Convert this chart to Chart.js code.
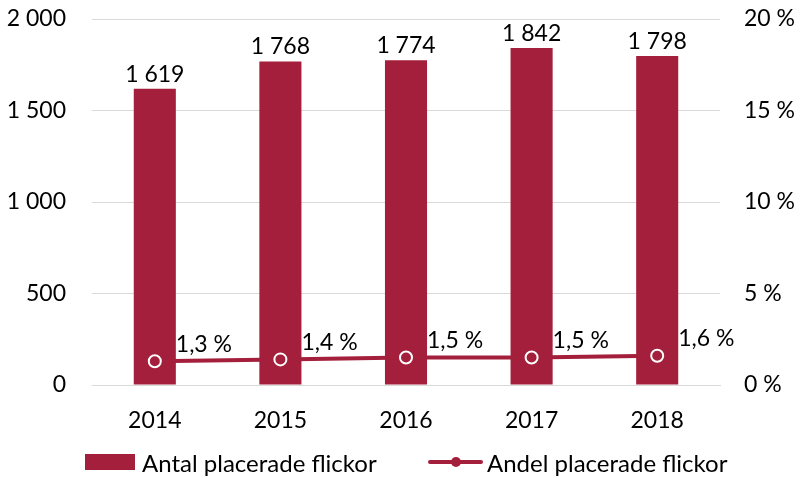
<!DOCTYPE html>
<html>
<head>
<meta charset="utf-8">
<script src="https://cdn.jsdelivr.net/npm/chart.js@4"></script>
<style>
  body { margin: 0; background: #fff; }
  #wrap { position: relative; width: 800px; height: 478px; }
  #legend { position: absolute; left: 0; top: 447px; width: 800px; height: 30px;
            font: 24px Lato, 'Noto Sans', sans-serif; color: #000; }
  #legend .item { position: absolute; top: 0; height: 30px; display: flex; align-items: center; white-space: nowrap; }
  #legend .box { width: 50px; height: 16px; margin-right: 7px; }
  #legend .line { position: relative; width: 55px; height: 4px; border-radius: 2px; margin-right: 4px; }
  #legend .line i { position: absolute; left: 23px; top: -3px; width: 10px; height: 10px; border-radius: 50%; }
</style>
</head>
<body>
<div id="wrap">
  <canvas id="chart"></canvas>
  <div id="legend"></div>
</div>
<script>
const years = ['2014', '2015', '2016', '2017', '2018'];
const antal = [1619, 1768, 1774, 1842, 1798];
const andel = [1.3, 1.4, 1.5, 1.5, 1.6];
const leftTicks = [0, 500, 1000, 1500, 2000];
const rightTicks = [0, 5, 10, 15, 20];

const red = '#A41F3B';
const font = "Lato, 'Noto Sans', sans-serif";
const fs = 23;

const fmtNum = v => String(v).replace(/\B(?=(\d{3})+(?!\d))/g, ' ');
const fmtPct = v => v.toFixed(1).replace('.', ',') + ' %';

const valueLabels = {
  id: 'valueLabels',
  afterDatasetsDraw(chart) {
    const ctx = chart.ctx;
    ctx.save();
    ctx.font = fs + 'px ' + font;
    ctx.fillStyle = '#000';
    chart.getDatasetMeta(0).data.forEach((bar, i) => {
      ctx.textAlign = 'center';
      ctx.textBaseline = 'bottom';
      ctx.fillText(fmtNum(antal[i]), bar.x, bar.y - 3);
    });
    chart.getDatasetMeta(1).data.forEach((pt, i) => {
      ctx.textAlign = 'left';
      ctx.textBaseline = 'middle';
      ctx.fillText(fmtPct(andel[i]), pt.x + 21, pt.y - 17);
    });
    ctx.restore();
  }
};

// html legend built from the chart's datasets
const htmlLegend = {
  id: 'htmlLegend',
  afterUpdate(chart) {
    const el = document.getElementById('legend');
    el.innerHTML = '';
    const lefts = [85, 428];
    chart.data.datasets.forEach((ds, i) => {
      const item = document.createElement('div');
      item.className = 'item';
      item.style.left = lefts[i] + 'px';
      const sw = document.createElement('span');
      if (ds.type === 'bar') {
        sw.className = 'box';
        sw.style.background = ds.backgroundColor;
      } else {
        sw.className = 'line';
        sw.style.background = ds.borderColor;
        const dot = document.createElement('i');
        dot.style.background = ds.borderColor;
        sw.appendChild(dot);
      }
      item.appendChild(sw);
      item.appendChild(document.createTextNode(ds.label));
      el.appendChild(item);
    });
  }
};

const noPad = s => { s.paddingTop = 0; s.paddingBottom = 0; };

new Chart(document.getElementById('chart'), {
  data: {
    labels: years,
    datasets: [
      {
        type: 'bar',
        label: 'Antal placerade flickor',
        data: antal,
        backgroundColor: red,
        yAxisID: 'y',
        barPercentage: 0.67,
        categoryPercentage: 0.5,
        order: 2
      },
      {
        type: 'line',
        label: 'Andel placerade flickor',
        data: andel,
        borderColor: red,
        borderWidth: 4,
        pointRadius: 6,
        pointBackgroundColor: red,
        pointBorderColor: '#fff',
        pointBorderWidth: 2,
        tension: 0,
        yAxisID: 'y1',
        order: 1
      }
    ]
  },
  options: {
    responsive: true,
    maintainAspectRatio: false,
    animation: false,
    layout: { padding: { top: 19, left: 0, right: 0, bottom: 38 } },
    plugins: {
      tooltip: { enabled: false },
      legend: { display: false }
    },
    scales: {
      x: {
        afterFit: s => { s.height = 55; },
        grid: { display: false },
        border: { display: true, color: '#D9D9D9' },
        ticks: { color: '#000', padding: 14, font: { family: font, size: fs } }
      },
      y: {
        position: 'left',
        min: 0, max: 2000,
        afterBuildTicks: s => { s.ticks = leftTicks.map(v => ({ value: v })); },
        afterFit: s => { s.width = 92; noPad(s); },
        grid: { color: '#D9D9D9', drawTicks: false },
        border: { display: false },
        ticks: { color: '#000', padding: 26, callback: v => fmtNum(v), font: { family: font, size: fs } }
      },
      y1: {
        position: 'right',
        min: 0, max: 20,
        afterBuildTicks: s => { s.ticks = rightTicks.map(v => ({ value: v })); },
        afterFit: s => { s.width = 80; noPad(s); },
        grid: { display: false, drawTicks: false },
        border: { display: false },
        ticks: { color: '#000', padding: 24, callback: v => v + ' %', font: { family: font, size: fs } }
      }
    }
  },
  plugins: [valueLabels, htmlLegend]
});
</script>
</body>
</html>
